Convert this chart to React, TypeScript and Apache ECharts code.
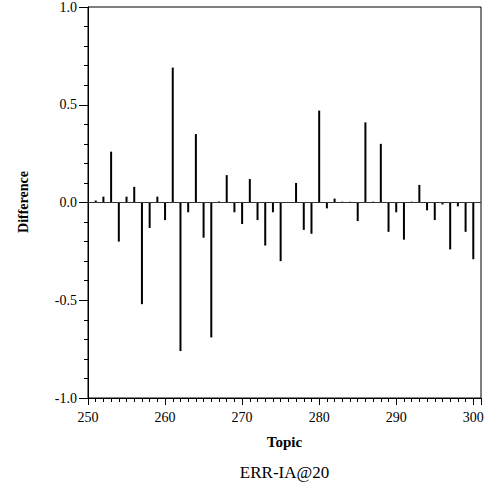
import React, { useEffect, useRef } from "react";
import * as echarts from "echarts";

const topics = [
  251, 252, 253, 254, 255, 256, 257, 258, 259, 260,
  261, 262, 263, 264, 265, 266, 267, 268, 269, 270,
  271, 272, 273, 274, 275, 276, 277, 278, 279, 280,
  281, 282, 283, 284, 285, 286, 287, 288, 289, 290,
  291, 292, 293, 294, 295, 296, 297, 298, 299, 300,
];
const differences = [
  0.01, 0.03, 0.26, -0.2, 0.03, 0.08, -0.52, -0.13, 0.03, -0.09,
  0.69, -0.76, -0.05, 0.35, -0.18, -0.69, 0.005, 0.14, -0.05, -0.11,
  0.12, -0.09, -0.22, -0.05, -0.3, 0, 0.1, -0.14, -0.16, 0.47,
  -0.03, 0.02, 0.004, 0.004, -0.095, 0.41, 0.004, 0.3, -0.15, -0.05,
  -0.19, 0.004, 0.09, -0.04, -0.09, -0.01, -0.24, -0.02, -0.15, -0.29,
];
const xTickLabels = ["250", "260", "270", "280", "290", "300"];
const yTickLabels = ["-1.0", "-0.5", "0.0", "0.5", "1.0"];

const FONT = "'Liberation Serif', 'Times New Roman', serif";

export default function App() {
  const ref = useRef<HTMLDivElement>(null);
  useEffect(() => {
    if (!ref.current) return;
    const chart = echarts.init(ref.current, null, { renderer: "svg" });
    const option: any = {
      animation: false,
      textStyle: { fontFamily: FONT },
      grid: {
        left: 88,
        right: 11,
        top: 5,
        bottom: 91,
        show: true,
        borderColor: "#000",
        borderWidth: 1,
        backgroundColor: "transparent",
      },
      xAxis: [
        {
          type: "value",
          position: "bottom",
          min: 250,
          max: 301,
          interval: 1,
          axisLine: { show: true, onZero: false, lineStyle: { color: "#000", width: 1 } },
          axisTick: { show: true, inside: false, length: 4, lineStyle: { color: "#000" } },
          axisLabel: {
            show: true,
            color: "#000",
            fontFamily: FONT,
            fontSize: 14,
            margin: 12,
            showMaxLabel: false,
            formatter: (v: number) => (xTickLabels.indexOf(String(v)) >= 0 ? String(v) : ""),
          },
          splitLine: { show: false },
        },
        {
          type: "value",
          position: "bottom",
          offset: 0,
          min: 250,
          max: 301,
          interval: 10,
          axisLine: { show: true, onZero: false, lineStyle: { color: "#000", width: 1 } },
          axisTick: { show: true, inside: false, length: 7, lineStyle: { color: "#000" } },
          axisLabel: { show: false },
          splitLine: { show: false },
        },
      ],
      yAxis: {
        type: "value",
        min: -1,
        max: 1,
        interval: 0.5,
        axisLine: { show: true, onZero: false, lineStyle: { color: "#000", width: 1 } },
        axisTick: { show: true, inside: false, length: 9, lineStyle: { color: "#000" } },
        minorTick: { show: true, splitNumber: 5, length: 4, lineStyle: { color: "#000", width: 1 } },
        axisLabel: {
          color: "#000",
          fontFamily: FONT,
          fontSize: 14,
          margin: 11,
          formatter: (v: number) => {
            const s = v.toFixed(1);
            return yTickLabels.indexOf(s) >= 0 ? s : "";
          },
        },
        splitLine: { show: false },
      },
      series: [
        {
          type: "bar",
          xAxisIndex: 0,
          barWidth: 2,
          itemStyle: { color: "#000" },
          data: topics.map((t, i) => [t, differences[i]]),
          markLine: {
            silent: true,
            symbol: "none",
            label: { show: false },
            lineStyle: { color: "#333", width: 1, type: "solid" },
            data: [{ yAxis: 0 }],
          },
        },
      ],
      graphic: [
        {
          type: "text",
          rotation: Math.PI / 2,
          x: 23,
          y: 202,
          style: {
            text: "Difference",
            fontFamily: FONT,
            fontSize: 14,
            fontWeight: "bold",
            fill: "#000",
            textAlign: "center",
            textVerticalAlign: "middle",
          },
        },
        {
          type: "text",
          x: 284.5,
          y: 442,
          style: {
            text: "Topic",
            fontFamily: FONT,
            fontSize: 15,
            fontWeight: "bold",
            fill: "#000",
            textAlign: "center",
            textVerticalAlign: "middle",
          },
        },
        {
          type: "text",
          x: 284.5,
          y: 472,
          style: {
            text: "ERR-IA@20",
            fontFamily: FONT,
            fontSize: 17,
            fill: "#000",
            textAlign: "center",
            textVerticalAlign: "middle",
          },
        },
      ],
    };
    chart.setOption(option);
    return () => chart.dispose();
  }, []);
  return (
    <div
      ref={ref}
      style={{ position: "absolute", left: 0, top: 0, width: 492, height: 489 }}
    />
  );
}
